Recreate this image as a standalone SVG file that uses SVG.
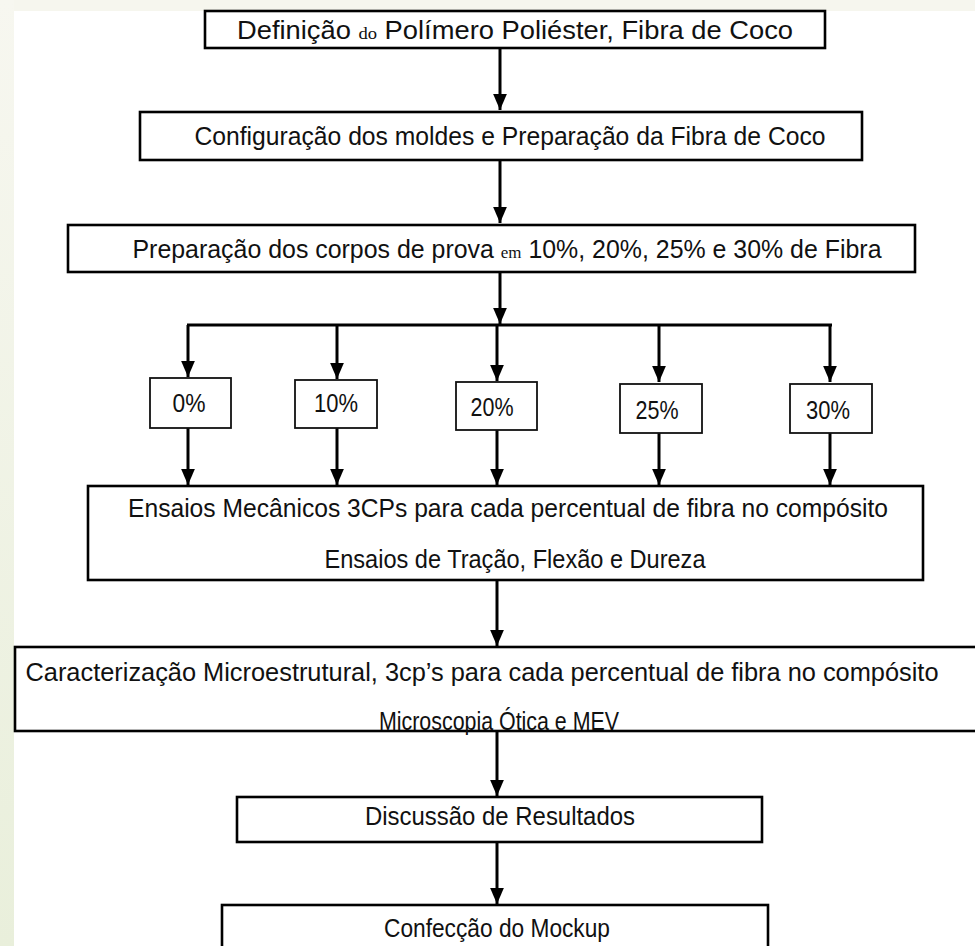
<svg xmlns="http://www.w3.org/2000/svg" width="975" height="946" viewBox="0 0 975 946">
<defs>
<linearGradient id="side" x1="0" y1="0" x2="0" y2="1">
<stop offset="0" stop-color="#f7f7f0"/>
<stop offset="1" stop-color="#e9efdb"/>
</linearGradient>
<marker id="ah" markerUnits="userSpaceOnUse" markerWidth="16" markerHeight="14" refX="14" refY="6" orient="auto" viewBox="0 0 14 12">
<path d="M0,0 L14,6 L0,12 Z" fill="#000"/>
</marker>
<style>
.bx{fill:#fff;stroke:#000;stroke-width:2.6}
.sb{fill:#fff;stroke:#111;stroke-width:1.8}
.t{font-family:"Liberation Sans Narrow","Arial Narrow","Liberation Sans",Arial,sans-serif;font-size:25px;fill:#111;text-anchor:middle}
.s{font-family:"Liberation Serif","Times New Roman",serif;font-size:17px}
.ln{stroke:#000;stroke-width:3;fill:none}
.ar{stroke:#000;stroke-width:3;fill:none;marker-end:url(#ah)}
</style>
</defs>
<rect x="0" y="0" width="975" height="946" fill="#fff"/>
<rect x="0" y="0" width="975" height="11" fill="#f6f6ee"/>
<rect x="0" y="0" width="14" height="946" fill="url(#side)"/>

<g id="connectors">
<line class="ar" x1="500" y1="48" x2="500" y2="110"/>
<line class="ar" x1="500" y1="160" x2="500" y2="223"/>
<line class="ar" x1="500" y1="272" x2="500" y2="324"/>
<line class="ln" x1="187" y1="325" x2="832" y2="325"/>
<line class="ar" x1="188" y1="325" x2="188" y2="377"/>
<line class="ar" x1="337" y1="325" x2="337" y2="379"/>
<line class="ar" x1="497" y1="325" x2="497" y2="381"/>
<line class="ar" x1="659" y1="325" x2="659" y2="382"/>
<line class="ar" x1="830" y1="325" x2="830" y2="382"/>
<line class="ar" x1="188" y1="428" x2="188" y2="485"/>
<line class="ar" x1="337" y1="428" x2="337" y2="485"/>
<line class="ar" x1="497" y1="430" x2="497" y2="485"/>
<line class="ar" x1="659" y1="433" x2="659" y2="485"/>
<line class="ar" x1="830" y1="433" x2="830" y2="485"/>
<line class="ar" x1="497" y1="580" x2="497" y2="646"/>
<line class="ar" x1="497" y1="731" x2="497" y2="796"/>
<line class="ar" x1="497" y1="842" x2="497" y2="904"/>
</g>

<g id="n1">
<rect class="bx" x="205" y="11" width="620" height="37"/>
<text class="t" x="515" y="39" textLength="556" lengthAdjust="spacingAndGlyphs">Definição <tspan class="s">do</tspan> Polímero  Poliéster, Fibra de Coco</text>
</g>
<g id="n2">
<rect class="bx" x="140" y="112" width="722" height="48"/>
<text class="t" x="510" y="145" textLength="631" lengthAdjust="spacingAndGlyphs">Configuração dos moldes e Preparação da Fibra de Coco</text>
</g>
<g id="n3">
<rect class="bx" x="68" y="225" width="847" height="47"/>
<text class="t" x="507" y="258" textLength="749" lengthAdjust="spacingAndGlyphs">Preparação dos corpos de prova <tspan class="s">em</tspan> 10%, 20%, 25% e 30% de Fibra</text>
</g>
<g id="p0">
<rect class="sb" x="150" y="378" width="81" height="50"/>
<text class="t" x="189" y="412" textLength="33" lengthAdjust="spacingAndGlyphs">0%</text>
</g>
<g id="p10">
<rect class="sb" x="295" y="380" width="82" height="48"/>
<text class="t" x="336" y="412" textLength="44" lengthAdjust="spacingAndGlyphs">10%</text>
</g>
<g id="p20">
<rect class="sb" x="456" y="382" width="81" height="48"/>
<text class="t" x="492" y="416" textLength="43" lengthAdjust="spacingAndGlyphs">20%</text>
</g>
<g id="p25">
<rect class="sb" x="620" y="384" width="82" height="49"/>
<text class="t" x="657" y="419" textLength="43" lengthAdjust="spacingAndGlyphs">25%</text>
</g>
<g id="p30">
<rect class="sb" x="790" y="384" width="82" height="49"/>
<text class="t" x="828" y="419" textLength="44" lengthAdjust="spacingAndGlyphs">30%</text>
</g>
<g id="n4">
<rect class="bx" x="88" y="486" width="835" height="94"/>
<text class="t" x="508" y="517" textLength="760" lengthAdjust="spacingAndGlyphs">Ensaios Mecânicos 3CPs para cada percentual  de fibra no compósito</text>
<text class="t" x="515" y="568" textLength="381" lengthAdjust="spacingAndGlyphs">Ensaios de Tração, Flexão e Dureza</text>
</g>
<g id="n5">
<rect class="bx" x="15" y="647" width="975" height="84"/>
<text class="t" x="482" y="681" textLength="913" lengthAdjust="spacingAndGlyphs">Caracterização Microestrutural,  3cp’s para cada percentual  de fibra no compósito</text>
<text class="t" x="499" y="730" textLength="240" lengthAdjust="spacingAndGlyphs">Microscopia Ótica e MEV</text>
</g>
<g id="n6">
<rect class="bx" x="237" y="797" width="525" height="45"/>
<text class="t" x="500" y="825" textLength="270" lengthAdjust="spacingAndGlyphs">Discussão de Resultados</text>
</g>
<g id="n7">
<rect class="bx" x="222" y="905" width="546" height="50"/>
<text class="t" x="497" y="937" textLength="226" lengthAdjust="spacingAndGlyphs">Confecção do Mockup</text>
</g>
</svg>
